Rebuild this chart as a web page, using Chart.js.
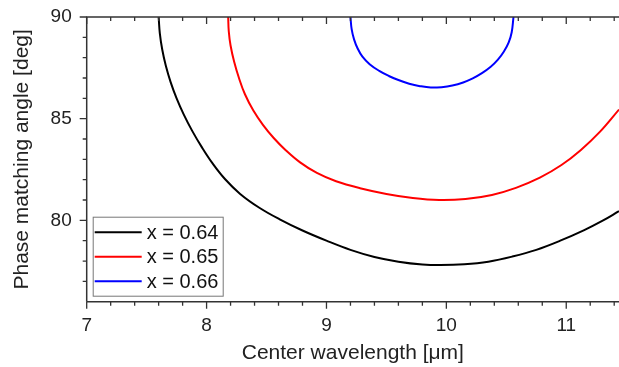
<!DOCTYPE html>
<html><head><meta charset="utf-8">
<script src="https://cdn.jsdelivr.net/npm/chart.js@4/dist/chart.umd.min.js"></script>
<style>html,body{margin:0;padding:0;background:#fff}#wrap{width:619px;height:367px}</style>
</head><body><div id="wrap"><canvas id="c" width="619" height="367"></canvas></div>
<script>
const seriesLabels = ['x = 0.64', 'x = 0.65', 'x = 0.66'];
const seriesColors = ['#000000', '#ff0000', '#0000ff'];

const wavelength064 = [7.60, 7.61, 7.63, 7.66, 7.70, 7.75, 7.81, 7.88, 7.96, 8.05, 8.155, 8.28, 8.44, 8.61, 8.80, 9.00, 9.20, 9.40, 9.60, 9.80, 9.95, 10.15, 10.35, 10.55, 10.75, 10.95, 11.15, 11.30, 11.44];
const angle064      = [90.0, 89.2, 88.4, 87.6, 86.8, 86.0, 85.2, 84.4, 83.6, 82.8, 82.02, 81.3, 80.62, 80.05, 79.5, 79.0, 78.55, 78.2, 77.97, 77.83, 77.8, 77.84, 77.97, 78.22, 78.55, 79.0, 79.52, 79.97, 80.45];

const wavelength065 = [8.18, 8.185, 8.20, 8.23, 8.27, 8.32, 8.39, 8.47, 8.56, 8.66, 8.78, 8.92, 9.08, 9.28, 9.50, 9.72, 9.94, 10.16, 10.38, 10.58, 10.78, 10.96, 11.12, 11.28, 11.44];
const angle065      = [90.0, 89.3, 88.6, 87.8, 87.0, 86.2, 85.4, 84.7, 84.05, 83.45, 82.85, 82.33, 81.92, 81.58, 81.3, 81.1, 81.0, 81.05, 81.25, 81.6, 82.1, 82.72, 83.45, 84.35, 85.45];

const wavelength066 = [9.20, 9.21, 9.23, 9.26, 9.30, 9.36, 9.44, 9.52, 9.60, 9.69, 9.78, 9.87, 9.96, 10.05, 10.14, 10.22, 10.30, 10.37, 10.43, 10.48, 10.52, 10.545, 10.56];
const angle066      = [90.0, 89.4, 88.9, 88.45, 88.05, 87.68, 87.35, 87.1, 86.9, 86.72, 86.6, 86.53, 86.55, 86.63, 86.78, 86.98, 87.25, 87.55, 87.9, 88.3, 88.75, 89.25, 90.0];

const xTickLabels = [7, 8, 9, 10, 11];
const yTickLabels = [80, 85, 90];

const FONT = '"Liberation Sans", Arial, sans-serif';

function pts(xs, ys) { return xs.map((x, i) => ({x: x, y: ys[i]})); }

const frameTicks = {
  id: 'frameTicks',
  afterDatasetsDraw(chart) {
    const {ctx, chartArea: a, scales: {x, y}} = chart;
    ctx.save();
    ctx.strokeStyle = '#333';
    ctx.lineWidth = 1.5;
    ctx.beginPath();
    ctx.moveTo(a.left, a.bottom); ctx.lineTo(a.left, a.top); ctx.lineTo(a.right, a.top);
    ctx.moveTo(a.left, a.bottom); ctx.lineTo(a.right, a.bottom);
    ctx.stroke();
    ctx.lineWidth = 1.3;
    ctx.beginPath();
    for (let v = 7; v <= 11.45; v += 0.2) {
      const vv = Math.round(v * 10) / 10;
      const px = x.getPixelForValue(vv);
      if (px > a.right + 0.5) continue;
      const major = Math.abs(vv - Math.round(vv)) < 1e-6;
      const L = major ? 7 : 4;
      ctx.moveTo(px, a.bottom); ctx.lineTo(px, a.bottom + L);
      ctx.moveTo(px, a.top); ctx.lineTo(px, a.top + L);
    }
    for (let v = 77; v <= 90; v += 1) {
      const py = y.getPixelForValue(v);
      const major = v % 5 === 0;
      const L = major ? 7 : 4;
      ctx.moveTo(a.left, py); ctx.lineTo(a.left - L, py);
    }
    ctx.stroke();
    ctx.restore();
  }
};

const boxLegend = {
  id: 'boxLegend',
  afterDraw(chart) {
    const {ctx, chartArea: a} = chart;
    const bx = a.left + 6, by = a.bottom - 85, bw = 130, bh = 79;
    ctx.save();
    ctx.fillStyle = '#fff';
    ctx.fillRect(bx, by, bw, bh);
    ctx.strokeStyle = '#777';
    ctx.lineWidth = 1;
    ctx.strokeRect(bx + 0.5, by + 0.5, bw, bh);
    ctx.font = '20px ' + FONT;
    ctx.textBaseline = 'middle';
    ctx.fillStyle = '#111';
    chart.data.datasets.forEach((ds, i) => {
      const cy = by + 15.5 + i * 24.5;
      ctx.strokeStyle = ds.borderColor;
      ctx.lineWidth = 2;
      ctx.beginPath(); ctx.moveTo(bx + 2, cy); ctx.lineTo(bx + 49, cy); ctx.stroke();
      ctx.fillText(ds.label, bx + 54, cy + 1);
    });
    ctx.restore();
  }
};

const datasets = [
  {label: seriesLabels[0], data: pts(wavelength064, angle064), borderColor: seriesColors[0]},
  {label: seriesLabels[1], data: pts(wavelength065, angle065), borderColor: seriesColors[1]},
  {label: seriesLabels[2], data: pts(wavelength066, angle066), borderColor: seriesColors[2]}
].map(d => Object.assign(d, {showLine: true, pointRadius: 0, borderWidth: 2, tension: 0.4, fill: false}));

new Chart(document.getElementById('c'), {
  type: 'scatter',
  data: {datasets},
  plugins: [frameTicks, boxLegend],
  options: {
    responsive: false, animation: false, devicePixelRatio: 1,
    layout: {padding: {top: 17, right: 0, left: 0, bottom: 0}},
    plugins: {legend: {display: false}, tooltip: {enabled: false}},
    scales: {
      x: {
        type: 'linear', min: 7, max: 11.44,
        afterFit: s => { s.height = 65.3; s.paddingLeft = 0; s.paddingRight = 0; },
        afterBuildTicks: s => { s.ticks = xTickLabels.map(v => ({value: v})); },
        grid: {display: false, drawTicks: false}, border: {display: false},
        ticks: {font: {family: FONT, size: 19}, color: '#222', padding: 13, maxRotation: 0, autoSkip: false},
        title: {display: true, text: 'Center wavelength [μm]', font: {family: FONT, size: 21}, color: '#222', padding: {top: 0, bottom: 1}}
      },
      y: {
        type: 'linear', min: 76, max: 90,
        afterFit: s => { s.width = 86.7; s.paddingTop = 0; s.paddingBottom = 0; },
        afterBuildTicks: s => { s.ticks = yTickLabels.map(v => ({value: v})); },
        grid: {display: false, drawTicks: false}, border: {display: false},
        ticks: {font: {family: FONT, size: 19}, color: '#222', padding: 15, autoSkip: false},
        title: {display: true, text: 'Phase matching angle [deg]', font: {family: FONT, size: 21}, color: '#222', padding: {top: 10, bottom: 0}}
      }
    }
  }
});
</script></body></html>
